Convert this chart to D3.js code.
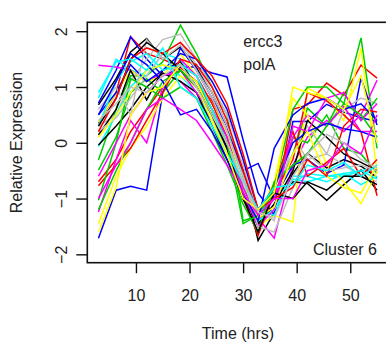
<!DOCTYPE html>
<html>
<head>
<meta charset="utf-8">
<script src="https://cdn.jsdelivr.net/npm/d3@7"></script>
<style>
  html, body { margin: 0; padding: 0; background: #fff; }
  svg { display: block; font-family: "Liberation Sans", Arial, Helvetica, sans-serif; }
</style>
</head>
<body>
<div id="chart"></div>
<script>
// sampling times (hrs)
var times = [3, 6.3, 9, 12, 15, 18.3, 21.3, 24.2, 27, 30, 32.8, 35.8, 39.3, 42, 45.6, 48.8, 52, 55];

// expression profiles, one per gene (drawn in this order)
var g01 = [0.68, 1.15, 1.63, 1.87, 1.5, 1.72, 1.35, 0.9, 0.3, -0.6, -1.75, -1.25, -0.55, -0.19, -0.45, -0.3, -0.42, -0.62];
var g02 = [0.35, 0.9, 1.9, 1.6, 1.5, 1.35, 1.1, 0.75, 0.2, -0.5, -1.45, -1.2, 0.6, 0.68, 1.07, 0.85, 1.39, 1.16];
var g03 = [-0.31, 0.6, 1.2, 1.2, 1.45, 2.11, 1.6, 1.0, 0.5, -1.4, -1.3, -0.9, -0.2, 0.62, 0.3, 0.7, 1.88, -0.1];
var g04 = [0.71, 1.3, 1.9, 1.5, 1.2, 1.36, 1.36, 1.25, 1.18, 0.05, -0.9, -1.3, 0.38, 0.38, 0.69, 0.55, 0.45, 0.38];
var g05 = [0.8, 1.5, 1.3, 1.2, 1.6, 1.5, 1.0, 0.6, 0.1, -0.6, -1.3, -0.95, -0.73, -0.55, -0.6, -0.6, -0.5, -0.43];
var g06 = [1.39, 1.36, 1.3, 1.1, 1.25, 1.1, 0.8, 0.4, -0.1, -0.8, -1.35, -1.71, -0.4, 0.1, 0.4, 0.2, 0.5, 1.12];
var g07 = [0.37, 0.9, 1.3, 1.1, 1.2, 1.6, 1.2, 0.7, 0.2, -0.8, -1.5, -1.3, -1.42, 0.98, 0.8, 0.4, 1.69, -0.52];
var g08 = [0.3, 0.5, 1.1, 1.5, 1.85, 1.95, 1.5, 1.0, 0.5, -0.3, -1.2, -1.4, 0.1, -0.3, -0.2, -0.4, -0.6, -0.7];
var g09 = [0.14, 0.6, 1.3, 0.77, 1.3, 1.45, 1.0, 0.5, -0.1, -0.9, -1.5, -1.1, -0.7, -0.73, -1.03, -0.75, -0.49, -0.85];
var g10 = [-0.7, -0.3, 0.2, 0.6, 1.0, 1.4, 1.2, 0.7, 0.1, -1.0, -1.66, -0.9, -0.3, 0.9, 0.75, 0.5, 0.2, -0.95];
var g11 = [-0.49, 0.1, 0.9, 1.15, 0.9, 1.3, 1.1, 0.6, 0.0, -0.9, -1.45, -0.8, 0.1, 0.0, 0.5, -0.1, -0.2, -0.55];
var g12 = [-1.71, -0.85, -0.78, -0.85, 0.9, 1.7, 1.3, 0.8, 0.3, -0.5, -0.37, -1.0, -0.4, -0.3, -0.55, -0.4, 1.16, 0.32];
var g13 = [-0.07, 0.5, 1.0, 1.3, 1.4, 1.2, 0.9, 0.4, -0.1, -0.7, -1.2, -1.3, -0.6, -0.6, -0.7, -0.55, -0.75, -0.6];
var g14 = [-1.24, -0.3, 0.4, 0.0, 1.0, 1.5, 1.2, 0.6, 0.1, -0.8, -1.4, -1.0, 0.1, 0.5, 0.3, 0.65, 0.2, 0.2];
var g15 = [-1.45, -0.6, -0.1, 0.3, 0.8, 1.2, 1.0, 0.4, -0.2, -0.9, -1.3, -0.7, 0.8, 0.5, -0.4, -0.7, -1.09, -0.52];
var g16 = [0.2, 0.45, 0.8, 1.2, 1.6, 1.8, 1.4, 0.9, 0.3, -0.4, -1.3, -0.8, -0.2, 0.3, -0.2, 0.6, 0.8, 0.7];
var g17 = [-0.04, 0.3, 0.6, 1.0, 1.25, 1.1, 0.9, 0.3, -0.3, -1.0, -1.45, -1.1, -0.5, 0.4, 0.1, -0.2, -0.35, -0.5];
var g18 = [-0.77, -0.4, -0.1, 0.4, 0.9, 1.5, 1.4, 1.0, 0.4, -0.5, -1.3, -0.75, 0.2, -0.6, -0.35, -0.1, -0.6, -0.3];
var g19 = [-1.03, 0.0, 1.15, 1.0, 0.8, 1.0, 0.8, 0.2, -0.4, -1.1, -1.6, -0.7, -0.4, -0.2, 0.3, 0.9, 0.4, 0.8];
var g20 = [0.5, 0.9, 1.4, 1.1, 1.3, 1.6, 1.5, 1.1, 0.6, -0.3, -1.2, -0.8, 0.0, 0.2, 0.35, 0.25, 0.2, 0.1];
var g21 = [0.3, 1.1, 1.45, 1.6, 1.3, 1.4, 1.2, 0.6, 0.0, -0.7, -1.4, -1.2, -0.65, -0.7, -0.6, -0.55, -0.5, -0.65];
var g22 = [-0.6, 0.0, 0.5, 0.9, 1.2, 1.3, 0.9, 0.5, -0.1, -0.9, -1.5, -1.2, 0.3, 0.2, 0.8, 0.9, 0.4, 0.7];
var g23 = [0.1, 0.5, 0.9, 1.3, 1.4, 1.3, 1.1, 0.5, 0.0, -0.7, -1.35, -1.15, -0.2, 0.2, -0.6, -0.8, -0.9, -0.4];
var g24 = [0.6, 1.0, 0.5, 1.85, 1.5, 1.75, 1.3, 0.8, 0.2, -0.6, -1.5, -1.6, -0.8, -0.2, -0.5, -0.45, -0.4, -0.5];
var g25 = [0.3, 0.8, 1.5, 1.8, 1.6, 1.3, 1.0, 0.5, -0.1, -1.0, -1.6, -0.9, -1.0, -0.7, -0.85, -0.6, -0.6, -0.75];
var g26 = [0.2, 0.8, 1.5, 1.7, 1.6, 1.8, 1.5, 1.2, 0.7, -0.2, -1.2, -1.0, -0.8, -0.3, -0.6, 0.3, 0.6, 0.55];
var g27 = [-1.2, -0.5, 0.0, 0.6, 1.1, 1.3, 1.0, 0.5, 0.0, -1.45, -1.3, -0.8, 0.6, 1.0, 1.0, 0.7, 0.5, 0.1];
var g28 = [0.5, 1.1, 1.6, 1.4, 1.1, 0.5, 0.6, 0.2, -0.3, -0.9, -1.4, -0.1, 0.5, 0.7, 0.8, 0.6, 0.7, 0.4];
var g29 = [0.9, 1.45, 1.5, 1.3, 1.7, 1.0, 0.8, 0.3, -0.2, -0.7, -1.2, -0.8, -0.75, -0.4, -0.5, -0.35, -0.6, -0.4];
var g30 = [-1.0, -0.4, 0.0, 0.6, 0.8, 0.6, 0.4, 0.0, -0.4, -0.9, -1.3, -1.0, -1.0, -0.5, -0.4, 0.0, -0.2, 0.5];
var g31 = [-1.6, -0.8, 0.5, 0.9, 1.0, 1.4, 1.0, 0.4, -0.2, -1.0, -1.2, -0.9, 1.0, 0.9, 0.8, 0.6, 1.2, 0.0];
var g32 = [0.4, 0.7, 1.0, 0.9, 1.2, 1.4, 1.0, 0.5, 0.0, -0.7, -1.25, -1.35, -0.6, -0.2, 0.15, 0.0, -0.3, -0.45];

var profiles = [g01, g02, g03, g04, g05, g06, g07, g08, g09, g10, g11, g12, g13, g14, g15, g16,
                g17, g18, g19, g20, g21, g22, g23, g24, g25, g26, g27, g28, g29, g30, g31, g32];

// R default palette, recycled
var palette = ['#000000', '#FF0000', '#00CD00', '#0000FF', '#00FFFF', '#FF00FF', '#FFFF00', '#BEBEBE'];

var xTicks = [10, 20, 30, 40, 50];
var yTicks = [-2, -1, 0, 1, 2];
var genes = ['ercc3', 'polA'];
var clusterLabel = 'Cluster 6';

(function() {

  var W = 386, H = 354;
  // plot region (right edge falls just outside the picture)
  var pl = 87.3, pr = 388.2, pt = 22.3, pb = 262.7;

  var svg = d3.select('#chart').append('svg').attr('width', W).attr('height', H);

  var x = d3.scaleLinear().domain([0.92, 57.08]).range([pl, pr]);
  var y = d3.scaleLinear().domain([-2.15, 2.16]).range([pb, pt]);

  svg.append('clipPath').attr('id', 'plotclip')
    .append('rect').attr('x', pl).attr('y', pt).attr('width', pr - pl).attr('height', pb - pt);

  var line = d3.line()
    .x(function(d, i) { return x(times[i]); })
    .y(function(d) { return y(d); });

  svg.append('g').attr('clip-path', 'url(#plotclip)')
    .selectAll('path')
    .data(profiles)
    .enter().append('path')
      .attr('d', line)
      .attr('fill', 'none')
      .attr('stroke', function(d, i) { return palette[i % palette.length]; })
      .attr('stroke-width', 1.5);

  // box
  svg.append('rect')
    .attr('x', pl).attr('y', pt)
    .attr('width', pr - pl).attr('height', pb - pt)
    .attr('fill', 'none').attr('stroke', '#111').attr('stroke-width', 1.6);

  // axes
  var xAxis = svg.append('g')
    .attr('transform', 'translate(0,' + pb + ')')
    .call(d3.axisBottom(x).tickValues(xTicks).tickSize(10.5).tickSizeOuter(0));
  xAxis.select('.domain').remove();
  xAxis.selectAll('line').attr('stroke', '#111').attr('stroke-width', 1.4);
  xAxis.selectAll('text')
    .attr('dy', 0).attr('y', 38)
    .attr('fill', '#222').style('font-size', '16px');

  var yAxis = svg.append('g')
    .attr('transform', 'translate(' + pl + ',0)')
    .call(d3.axisLeft(y).tickValues(yTicks).tickSize(11).tickSizeOuter(0)
      .tickFormat(function(d) { return d < 0 ? '\u2212' + Math.abs(d) : d; }));
  yAxis.select('.domain').remove();
  yAxis.selectAll('line').attr('stroke', '#111').attr('stroke-width', 1.4);
  yAxis.selectAll('text')
    .attr('x', 0).attr('y', -(pl - 66.5)).attr('dy', 0)
    .attr('transform', 'rotate(-90)')
    .attr('text-anchor', 'middle')
    .attr('fill', '#222').style('font-size', '16px');

  // axis titles
  svg.append('text')
    .attr('transform', 'translate(21.7,' + ((pt + pb) / 2) + ') rotate(-90)')
    .attr('text-anchor', 'middle')
    .style('font-size', '16px').attr('fill', '#222')
    .text('Relative Expression');

  svg.append('text')
    .attr('x', 238).attr('y', 339)
    .attr('text-anchor', 'middle')
    .style('font-size', '16px').attr('fill', '#222')
    .text('Time (hrs)');

  // annotations
  svg.append('g').selectAll('text')
    .data(genes)
    .enter().append('text')
      .attr('x', 243.3)
      .attr('y', function(d, i) { return 46.5 + i * 23; })
      .style('font-size', '16px').attr('fill', '#222')
      .text(function(d) { return d; });

  svg.append('text')
    .attr('x', 377).attr('y', 255)
    .attr('text-anchor', 'end')
    .style('font-size', '16px').attr('fill', '#222')
    .text(clusterLabel);

})();
</script>
</body>
</html>
